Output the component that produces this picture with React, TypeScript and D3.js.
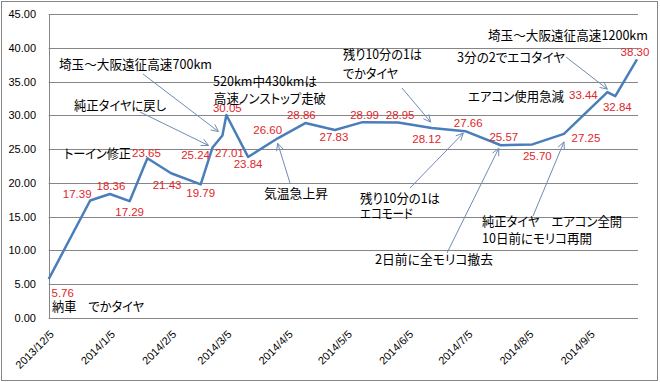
import React from "react";
import * as d3 from "d3";

// ---- data ----
const dates = [
  "2013-12-05", "2013-12-26", "2014-01-05", "2014-01-15", "2014-01-24",
  "2014-02-05", "2014-02-20", "2014-02-26", "2014-03-03", "2014-03-05",
  "2014-03-16", "2014-03-31", "2014-04-14", "2014-04-29", "2014-05-13",
  "2014-05-31", "2014-06-17", "2014-07-04", "2014-07-22", "2014-08-07",
  "2014-08-23", "2014-09-14", "2014-09-18", "2014-09-29",
];
const values = [
  5.76, 17.39, 18.36, 17.29, 23.65,
  21.43, 19.79, 25.24, 27.01, 30.05,
  23.84, 26.6, 28.86, 27.83, 28.99,
  28.95, 28.12, 27.66, 25.57, 25.7,
  27.25, 33.44, 32.84, 38.3,
];
const xTickLabels = [
  "2013/12/5", "2014/1/5", "2014/2/5", "2014/3/5", "2014/4/5",
  "2014/5/5", "2014/6/5", "2014/7/5", "2014/8/5", "2014/9/5",
];
const yTicks = [0, 5, 10, 15, 20, 25, 30, 35, 40, 45];

// ---- layout (label placement, annotations) ----
const labelOffsets: [number, number][] = [
  [14, 14], [-13, -6.5], [1, -7.5], [0, 11], [-1, -5],
  [-4, 12], [0, 8.5], [-17, 7.5], [7, 17.5], [1, -7],
  [0, 7], [-10, -8], [-4, -8], [-1, 7], [2, -7],
  [2, -7], [-5, 11], [3, -8.5], [3, -8.5], [5, 11.5],
  [22, 4], [-24, 3], [2, 11], [-2, -7],
];

const notes = [
  { text: "埼玉～大阪遠征高速700km", x: 59, y: 63.5, w: 153 },
  { text: "520km中430kmは", x: 213, y: 80, w: 104 },
  { text: "高速ノンストップ走破", x: 214, y: 97.5, w: 112 },
  { text: "純正タイヤに戻し", x: 74, y: 104.5, w: 92 },
  { text: "トーイン修正", x: 64, y: 152.5, w: 67 },
  { text: "気温急上昇", x: 264, y: 192.5, w: 64 },
  { text: "残り10分の1は", x: 343, y: 53.5, w: 79 },
  { text: "でかタイヤ", x: 343, y: 72, w: 55 },
  { text: "埼玉～大阪遠征高速1200km", x: 488, y: 34.5, w: 160 },
  { text: "3分の2でエコタイヤ", x: 457, y: 56.5, w: 108 },
  { text: "エアコン使用急減", x: 468, y: 95, w: 96 },
  { text: "残り10分の1は", x: 360, y: 197.5, w: 80 },
  { text: "エコモード", x: 360, y: 212, w: 53 },
  { text: "純正タイヤ　エアコン全開", x: 482, y: 220, w: 140 },
  { text: "10日前にモリコ再開", x: 482, y: 237.5, w: 110 },
  { text: "2日前に全モリコ撤去", x: 375, y: 258.5, w: 118 },
  { text: "納車　でかタイヤ", x: 52, y: 305, w: 92 },
];

const arrows = [
  { from: [140, 112], at: 7, off: [-4, -2] },
  { from: [143, 74], at: 8, off: [-4, -4] },
  { from: [290, 183], at: 11, off: [0, 5] },
  { from: [402, 88], at: 16, off: [-1, -6] },
  { from: [566, 57], at: 21, off: [0, -3] },
  { from: [410, 188], at: 17, off: [-2, 2] },
  { from: [447, 253], at: 18, off: [-2, 3] },
  { from: [533, 216], at: 20, off: [0, 8] },
];

const W = 660;
const H = 382;
const left = 48.7;
const right = 637;
const top = 14;
const bottom = 318;

export default function App() {
  const parse = d3.utcParse("%Y-%m-%d");
  const parseTick = d3.utcParse("%Y/%m/%d");
  const pts = dates.map((d, i) => ({ date: parse(d) as Date, v: values[i] }));
  const x = d3
    .scaleUtc()
    .domain([pts[0].date, pts[pts.length - 1].date])
    .range([left, right]);
  const y = d3.scaleLinear().domain([0, 45]).range([bottom, top]);
  const line = d3
    .line<{ date: Date; v: number }>()
    .x((d) => x(d.date))
    .y((d) => y(d.v));

  const grid = "#868686";
  const arrowColor = "#6d8cb3";
  const jp = '"Noto Sans CJK JP", "Noto Sans", sans-serif';
  const lat = '"Liberation Sans", Arial, sans-serif';

  return (
    <svg
      width={W}
      height={H}
      style={{ position: "absolute", left: 0, top: 0, background: "#fff" }}
    >
      <rect x={0} y={0} width={W} height={H} fill="#fff" />
      <rect x={1.5} y={1.5} width={656} height={379} fill="none" stroke={grid} strokeWidth={1} />
      {yTicks.map((t) => (
        <g key={t}>
          <line
            x1={left}
            x2={right + 1}
            y1={Math.round(y(t)) + 0.5}
            y2={Math.round(y(t)) + 0.5}
            stroke={grid}
            strokeWidth={1}
          />
          <text
            x={36}
            y={y(t)}
            textAnchor="end"
            dominantBaseline="central"
            fontFamily={lat}
            fontSize={11}
            fill="#000"
          >
            {t.toFixed(2)}
          </text>
        </g>
      ))}
      <line x1={Math.round(left) + 0.5} x2={Math.round(left) + 0.5} y1={top} y2={bottom} stroke={grid} />
      {xTickLabels.map((t) => {
        const tx = x(parseTick(t) as Date) + 6;
        const ty = 335;
        return (
          <text
            key={t}
            x={tx}
            y={ty}
            textAnchor="end"
            transform={`rotate(-45 ${tx} ${ty})`}
            fontFamily={lat}
            fontSize={11}
            fill="#000"
          >
            {t}
          </text>
        );
      })}
      <path
        d={line(pts) || ""}
        fill="none"
        stroke="#4a7ebb"
        strokeWidth={2.5}
        strokeLinejoin="round"
      />
      {pts.map((p, i) => (
        <text
          key={i}
          x={x(p.date) + labelOffsets[i][0]}
          y={y(p.v) + labelOffsets[i][1]}
          textAnchor="middle"
          dominantBaseline="central"
          fontFamily='"Liberation Sans Narrow", "Liberation Sans", Arial, sans-serif'
          fontSize={11.5}
          fill="#e0262b"
        >
          {p.v.toFixed(2)}
        </text>
      ))}
      {arrows.map((a, i) => {
        const p = pts[a.at];
        const tx = x(p.date) + a.off[0];
        const ty = y(p.v) + a.off[1];
        const ang = Math.atan2(ty - a.from[1], tx - a.from[0]);
        const L = 8;
        const s = 0.45;
        const h1 = [tx - L * Math.cos(ang - s), ty - L * Math.sin(ang - s)];
        const h2 = [tx - L * Math.cos(ang + s), ty - L * Math.sin(ang + s)];
        return (
          <g key={i} stroke={arrowColor} strokeWidth={1} fill="none">
            <line x1={a.from[0]} y1={a.from[1]} x2={tx} y2={ty} />
            <polyline points={`${h1[0]},${h1[1]} ${tx},${ty} ${h2[0]},${h2[1]}`} />
          </g>
        );
      })}
      {notes.map((n, i) => (
        <text
          key={i}
          x={n.x}
          y={n.y}
          dominantBaseline="central"
          fontFamily={jp}
          fontSize={13}
          textLength={n.w}
          lengthAdjust="spacingAndGlyphs"
          style={{ fontFeatureSettings: '"palt"' }}
          fill="#000"
        >
          {n.text}
        </text>
      ))}
    </svg>
  );
}
